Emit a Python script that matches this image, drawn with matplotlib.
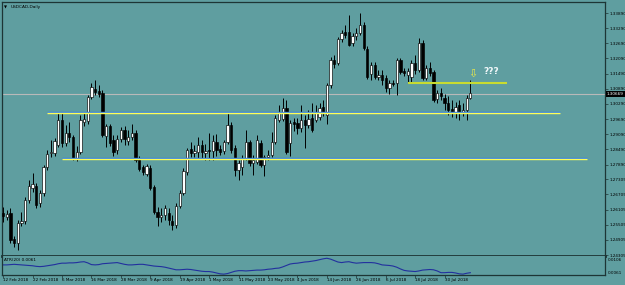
import matplotlib
matplotlib.use('Agg')
import matplotlib.pyplot as plt
import numpy as np

symbol_title = "USDCAD,Daily"

opens = [1.2597,1.2582,1.2597,1.2495,1.2479,1.2558,1.2566,1.2649,1.2696,1.2704,
         1.2637,1.2677,1.2779,1.2835,1.2835,1.2866,1.2965,1.2874,1.2914,1.2898,
         1.2815,1.2839,1.2957,1.2961,1.3057,1.3089,1.3081,1.3073,1.2902,1.2942,
         1.2886,1.2847,1.2890,1.2926,1.2882,1.2898,1.2914,1.2811,1.2779,1.2752,
         1.2776,1.2700,1.2601,1.2582,1.2590,1.2597,1.2566,1.2550,1.2625,1.2677,
         1.2760,1.2851,1.2835,1.2839,1.2866,1.2835,1.2847,1.2843,1.2878,1.2851,
         1.2843,1.2878,1.2946,1.2854,1.2768,1.2779,1.2815,1.2878,1.2795,1.2799,
         1.2874,1.2787,1.2819,1.2827,1.2878,1.2965,1.2969,1.3013,1.2874,1.2957,
         1.2953,1.2934,1.2965,1.2946,1.2973,1.2965,1.2977,1.3017,1.2985,1.3104,
         1.3203,1.3191,1.3286,1.3314,1.3314,1.3271,1.3298,1.3310,1.3342,1.3247,
         1.3148,1.3183,1.3136,1.3144,1.3132,1.3092,1.3112,1.3112,1.3203,1.3160,
         1.3144,1.3136,1.3191,1.3164,1.3270,1.3132,1.3172,1.3156,1.3049,1.3073,
         1.3053,1.3033,1.3009,1.2993,1.3025,1.2993,1.3005,1.3053]

highs = [1.2621,1.2609,1.2617,1.2507,1.2570,1.2601,1.2661,1.2728,1.2756,1.2716,
         1.2688,1.2787,1.2847,1.2886,1.2894,1.2997,1.2997,1.2946,1.2957,1.2906,
         1.2862,1.2985,1.2997,1.3065,1.3112,1.3124,1.3104,1.3085,1.2949,1.2949,
         1.2906,1.2906,1.2938,1.2942,1.2926,1.2949,1.2926,1.2823,1.2787,1.2791,
         1.2787,1.2708,1.2621,1.2617,1.2629,1.2617,1.2590,1.2637,1.2688,1.2776,
         1.2854,1.2878,1.2866,1.2898,1.2886,1.2870,1.2914,1.2906,1.2910,1.2866,
         1.2886,1.2997,1.2957,1.2866,1.2807,1.2827,1.2926,1.2886,1.2827,1.2906,
         1.2886,1.2827,1.2847,1.2918,1.2985,1.3025,1.3053,1.3045,1.2965,1.2973,
         1.2973,1.3025,1.2985,1.3005,1.3033,1.3025,1.3033,1.3045,1.3112,1.3215,
         1.3223,1.3294,1.3322,1.3342,1.3382,1.3310,1.3330,1.3390,1.3354,1.3259,
         1.3195,1.3195,1.3164,1.3164,1.3144,1.3124,1.3124,1.3211,1.3211,1.3172,
         1.3172,1.3203,1.3223,1.3290,1.3282,1.3183,1.3195,1.3164,1.3085,1.3092,
         1.3069,1.3061,1.3045,1.3037,1.3045,1.3033,1.3065,1.3124]

lows = [1.2562,1.2570,1.2479,1.2463,1.2451,1.2546,1.2554,1.2637,1.2681,1.2617,
        1.2621,1.2665,1.2768,1.2819,1.2823,1.2858,1.2858,1.2862,1.2878,1.2807,
        1.2803,1.2831,1.2942,1.2949,1.3049,1.3065,1.3057,1.2898,1.2858,1.2862,
        1.2823,1.2831,1.2878,1.2866,1.2866,1.2886,1.2799,1.2764,1.2748,1.2744,
        1.2688,1.2594,1.2546,1.2562,1.2570,1.2550,1.2530,1.2538,1.2617,1.2669,
        1.2748,1.2819,1.2819,1.2815,1.2815,1.2807,1.2807,1.2807,1.2823,1.2827,
        1.2831,1.2870,1.2835,1.2744,1.2728,1.2748,1.2807,1.2783,1.2748,1.2791,
        1.2779,1.2744,1.2807,1.2819,1.2870,1.2957,1.2961,1.2831,1.2823,1.2922,
        1.2910,1.2918,1.2854,1.2934,1.2918,1.2957,1.2965,1.2981,1.2949,1.3092,
        1.3172,1.3183,1.3274,1.3290,1.3259,1.3259,1.3282,1.3302,1.3243,1.3128,
        1.3124,1.3128,1.3124,1.3104,1.3077,1.3069,1.3100,1.3065,1.3148,1.3140,
        1.3116,1.3116,1.3148,1.3156,1.3124,1.3124,1.3140,1.3037,1.3033,1.3045,
        1.3005,1.2985,1.2977,1.2973,1.2965,1.2981,1.2965,1.3049]

closes = [1.2586,1.2594,1.2491,1.2479,1.2558,1.2566,1.2649,1.2704,1.2712,1.2629,
          1.2677,1.2779,1.2831,1.2839,1.2882,1.2965,1.2874,1.2914,1.2898,1.2815,
          1.2839,1.2965,1.2969,1.3057,1.3096,1.3077,1.3069,1.2906,1.2942,1.2874,
          1.2839,1.2890,1.2926,1.2890,1.2898,1.2914,1.2807,1.2772,1.2760,1.2783,
          1.2696,1.2601,1.2582,1.2590,1.2617,1.2570,1.2550,1.2625,1.2677,1.2764,
          1.2847,1.2835,1.2843,1.2866,1.2839,1.2843,1.2843,1.2882,1.2847,1.2839,
          1.2878,1.2946,1.2847,1.2768,1.2795,1.2815,1.2878,1.2795,1.2807,1.2886,
          1.2787,1.2819,1.2827,1.2878,1.2973,1.2997,1.3013,1.2839,1.2953,1.2949,
          1.2934,1.2965,1.2946,1.2969,1.2926,1.2993,1.3013,1.2993,1.3104,1.3203,
          1.3187,1.3286,1.3310,1.3302,1.3263,1.3298,1.3310,1.3342,1.3251,1.3136,
          1.3183,1.3136,1.3144,1.3124,1.3092,1.3112,1.3108,1.3203,1.3156,1.3152,
          1.3160,1.3191,1.3164,1.3270,1.3132,1.3172,1.3152,1.3045,1.3073,1.3061,
          1.3033,1.3005,1.2993,1.3017,1.2993,1.3005,1.3053,1.3073]

atr_values = [.0089,.0089,.0090,.0091,.0090,.0089,.0088,.0087,.0086,.0084,
              .0083,.0084,.0086,.0088,.0090,.0093,.0095,.0095,.0096,.0096,
              .0097,.0099,.0100,.0096,.0090,.0089,.0090,.0093,.0094,.0095,
              .0096,.0097,.0094,.0091,.0089,.0089,.0090,.0091,.0091,.0089,
              .0087,.0085,.0084,.0083,.0081,.0078,.0075,.0072,.0072,.0073,
              .0074,.0073,.0071,.0069,.0067,.0066,.0066,.0064,.0061,.0058,
              .0057,.0059,.0063,.0067,.0069,.0069,.0068,.0069,.0070,.0071,
              .0071,.0072,.0074,.0075,.0077,.0078,.0082,.0087,.0092,.0094,
              .0095,.0097,.0099,.0100,.0102,.0104,.0107,.0110,.0112,.0109,
              .0104,.0099,.0097,.0099,.0100,.0097,.0095,.0096,.0097,.0097,
              .0097,.0096,.0093,.0089,.0088,.0087,.0085,.0081,.0075,.0070,
              .0068,.0067,.0066,.0068,.0071,.0072,.0073,.0072,.0068,.0062,
              .0062,.0063,.0063,.0061,.0058,.0057,.0060,.0062]
atr_label = "ATR(20) 0.0061"
atr_scale_labels = ["0.0106", "0.0061"]

date_labels = ["12 Feb 2018", "22 Feb 2018", "6 Mar 2018", "16 Mar 2018", "28 Mar 2018",
               "9 Apr 2018", "19 Apr 2018", "1 May 2018", "11 May 2018", "23 May 2018",
               "4 Jun 2018", "14 Jun 2018", "26 Jun 2018", "6 Jul 2018", "18 Jul 2018",
               "30 Jul 2018"]
date_label_bars = [0, 8, 16, 24, 32, 40, 48, 56, 64, 72, 80, 88, 96, 104, 112, 120]

price_labels = ["1.33890", "1.33290", "1.32690", "1.32090", "1.31490", "1.30890",
                "1.30290", "1.29690", "1.29090", "1.28490", "1.27890", "1.27305",
                "1.26705", "1.26105", "1.25505", "1.24905", "1.24305"]

current_price = "1.30669"

# drawn objects: level, first bar, last bar
support_upper = (1.2994, 11.9, 151.3)
support_lower = (1.2811, 16.0, 158.6)
resistance = (1.3112, 110.0, 137.0)
question_text = ("???", 132.8, 1.3156)
arrow_mark = ("\u21e9", 127.6, 1.3148)

# ---------------------------------------------------------------
BG = '#5F9EA0'
FRAME = '#1d3535'
W, H = 625, 285
fig = plt.figure(figsize=(W / 100, H / 100), dpi=100, facecolor=BG)

ax = fig.add_axes([2 / W, 1 - 256 / H, 603 / W, 254 / H], facecolor=BG)
ax2 = fig.add_axes([2 / W, 1 - 275 / H, 603 / W, 19 / H], facecolor=BG, sharex=ax)

o = np.array(opens); h = np.array(highs); l = np.array(lows); c = np.array(closes)
x = np.arange(len(o))

ax.vlines(x, l, h, color='black', linewidth=0.7, zorder=3)
bull = c >= o
bottoms = np.minimum(o, c)
heights = np.maximum(np.abs(c - o), 0.00025)
ax.bar(x[bull], heights[bull], bottom=bottoms[bull], width=0.62,
       color='white', edgecolor='black', linewidth=0.45, zorder=4)
ax.bar(x[~bull], heights[~bull], bottom=bottoms[~bull], width=0.62,
       color='black', edgecolor='black', linewidth=0.45, zorder=4)

# current price line
cp = float(current_price)
ax.axhline(cp, color='#B9B9B9', linewidth=0.8, zorder=2)

# support lines (blue + yellow)
for lvl, x0, x1 in (support_upper, support_lower):
    ax.plot([x0, x1], [lvl + 0.00035, lvl + 0.00035], color='#2E7CF0', linewidth=1.0, zorder=5,
            solid_capstyle='butt')
    ax.plot([x0, x1], [lvl, lvl], color='#FFFF55', linewidth=1.0, zorder=5,
            solid_capstyle='butt')
lvl, x0, x1 = resistance
ax.plot([x0, x1], [lvl, lvl], color='#C8DC30', linewidth=1.5, zorder=5, solid_capstyle='butt')

ax.text(question_text[1], question_text[2], question_text[0], color='#EEF6F8',
        fontsize=6.5, fontweight='bold', ha='center', va='center', zorder=6)
ax.text(arrow_mark[1], arrow_mark[2], arrow_mark[0], color='#E8E84A',
        fontsize=8, ha='center', va='center', zorder=6)

ax.set_xlim(-0.3, 163.6)
ax.set_ylim(1.24266, 1.34327)

ax.yaxis.tick_right()
ax.set_yticks([float(s) for s in price_labels])
ax.set_yticklabels(price_labels)
ax.tick_params(axis='y', length=2, width=0.5, color=FRAME, labelsize=3,
               pad=1, labelcolor='black')
ax.tick_params(axis='x', bottom=False, labelbottom=False)

# current price tag
ax.annotate(current_price, xy=(1.0, cp), xycoords=('axes fraction', 'data'),
            xytext=(1.5, 0), textcoords='offset points', fontsize=3,
            color='white', va='center', ha='left', annotation_clip=False,
            bbox=dict(boxstyle='square,pad=0.25', facecolor='black', edgecolor='none'),
            zorder=10)

ax.text(0.004, 0.985, "\u25bc", transform=ax.transAxes, fontsize=2.8, color='black',
        va='top', ha='left')
ax.text(0.0135, 0.988, symbol_title, transform=ax.transAxes, fontsize=3.1, color='black',
        va='top', ha='left')

for a in (ax, ax2):
    for s in a.spines.values():
        s.set_color(FRAME)
        s.set_linewidth(0.9)
ax.spines['bottom'].set_linewidth(2.0)

# ATR panel
ax2.plot(x, atr_values, color='#22309E', linewidth=0.8)
ax2.set_ylim(0.0054, 0.01198)
ax2.yaxis.tick_right()
ax2.set_yticks([float(s) for s in atr_scale_labels])
ax2.set_yticklabels(atr_scale_labels)
ax2.tick_params(axis='y', length=0, labelsize=3, pad=2, labelcolor='black')
ax2.text(0.003, 0.78, atr_label, transform=ax2.transAxes, fontsize=3, color='black',
         va='center', ha='left')
ax2.set_xticks(date_label_bars)
ax2.set_xticklabels(date_labels, ha='left')
ax2.tick_params(axis='x', length=2, width=0.5, color=FRAME, labelsize=3, pad=0.5,
                labelcolor='black')
ax2.spines['top'].set_visible(False)

fig.savefig('out.png', dpi=100, facecolor=BG)
